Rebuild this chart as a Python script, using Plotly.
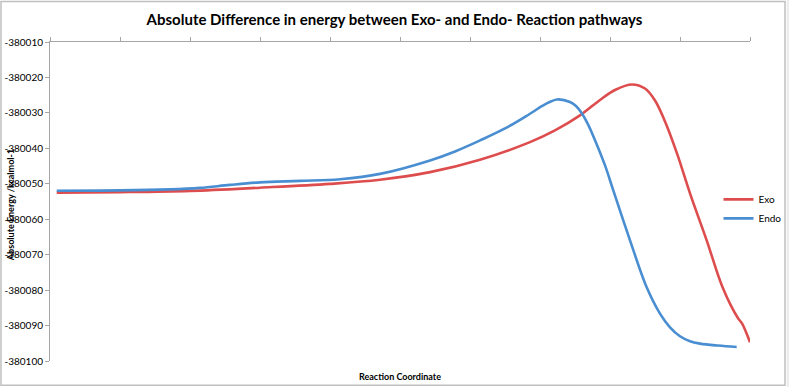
import plotly.graph_objects as go

# Reaction coordinate (arbitrary units) and absolute energies (kcal/mol)
exo_x = [0.096, 1.0, 2.0, 3.0, 4.0, 4.714, 5.429, 6.143, 6.857, 7.214, 7.571, 7.857, 8.071,
         8.314, 8.5, 8.643, 8.786, 8.957, 9.143, 9.381, 9.614, 9.829, 9.886, 10.0]
exo_y = [-380052.51, -380052.37, -380052.01, -380051.10, -380050.03, -380048.85, -380046.71,
         -380043.21, -380038.25, -380034.95, -380030.72, -380026.35, -380023.53, -380021.98,
         -380023.11, -380026.49, -380032.41, -380041.43, -380052.71, -380065.96, -380079.50,
         -380087.95, -380089.36, -380094.72]

endo_x = [0.096, 1.0, 1.714, 2.143, 2.571, 3.0, 3.571, 4.143, 4.714, 5.429, 5.786, 6.143, 6.5,
          6.857, 7.071, 7.243, 7.429, 7.514, 7.6, 7.686, 7.757, 7.929, 8.047, 8.286, 8.524,
          8.714, 8.857, 9.0, 9.143, 9.286, 9.543, 9.81]
endo_y = [-380051.95, -380051.87, -380051.58, -380051.16, -380050.32, -380049.61, -380049.19,
          -380048.71, -380047.21, -380043.41, -380040.87, -380037.77, -380034.39, -380030.24,
          -380027.62, -380026.21, -380026.92, -380028.04, -380030.16, -380033.26, -380036.36,
          -380044.82, -380051.87, -380065.96, -380079.21, -380086.63, -380090.49, -380093.03,
          -380094.44, -380095.09, -380095.65, -380096.04]

y_ticks = [-380010, -380020, -380030, -380040, -380050, -380060, -380070, -380080, -380090, -380100]
x_ticks = list(range(0, 11))

FONT = "Lato, 'Open Sans', sans-serif"
AXIS_COL = "#a6a6a6"

fig = go.Figure()
fig.add_trace(go.Scatter(x=exo_x, y=exo_y, name="Exo", mode="lines",
                         line=dict(color="#DE4D4E", width=2.6, shape="spline", smoothing=1.0)))
fig.add_trace(go.Scatter(x=endo_x, y=endo_y, name="Endo", mode="lines",
                         line=dict(color="#4A8ED2", width=2.6, shape="spline", smoothing=1.0)))

fig.update_layout(
    width=789, height=387,
    margin=dict(l=50, r=39, t=41.5, b=26.3, autoexpand=False),
    paper_bgcolor="white", plot_bgcolor="white",
    font=dict(family=FONT, size=10, color="#000000"),
    title=dict(text="<b>Absolute Difference in energy between Exo- and Endo- Reaction pathways</b>",
               x=0.5, xanchor="center", y=0.948, yanchor="middle",
               font=dict(family=FONT, size=15, color="#000000")),
    showlegend=True,
    legend=dict(x=0.955, y=0.4768, xanchor="left", yanchor="middle", xref="paper", yref="paper",
                bgcolor="rgba(0,0,0,0)", font=dict(size=10, family=FONT), itemwidth=30,
                tracegroupgap=0),
    xaxis=dict(range=[0, 10], side="top", tickvals=x_ticks, showticklabels=False,
               ticks="outside", ticklen=4, tickcolor=AXIS_COL, showline=True, linecolor=AXIS_COL,
               linewidth=1, showgrid=False, zeroline=False, fixedrange=True),
    yaxis=dict(range=[-380100, -380010], tickvals=y_ticks, ticktext=[str(v) for v in y_ticks],
               ticks="outside", ticklen=4, tickcolor=AXIS_COL, showline=True, linecolor=AXIS_COL,
               linewidth=1, showgrid=False, zeroline=False, tickfont=dict(size=10, family=FONT),
               fixedrange=True),
    annotations=[
        dict(text="<b>Reaction Coordinate</b>", x=0.5, y=-0.048, xref="paper", yref="paper",
             xanchor="center", yanchor="middle", showarrow=False, font=dict(size=9, family=FONT)),
        dict(text="<b>Absolute Energy /kcalmol-1</b>", x=-0.056, y=0.488, xref="paper", yref="paper",
             xanchor="center", yanchor="middle", showarrow=False, textangle=-90,
             font=dict(size=9, family=FONT)),
    ],
    shapes=[
        dict(type="rect", xref="paper", yref="paper", x0=-0.07, x1=1.05, y0=-0.0761, y1=1.1269,
             line=dict(color="#c0c0c0", width=1.5), fillcolor="rgba(0,0,0,0)", layer="below"),
        dict(type="rect", xref="paper", yref="paper", x0=1.0525, x1=1.06, y0=-0.1, y1=1.15,
             line=dict(width=0), fillcolor="#ececec", layer="below"),
    ],
)

fig.write_html("out.html", config={"displayModeBar": False},
               post_script="document.body.style.margin='0';")
